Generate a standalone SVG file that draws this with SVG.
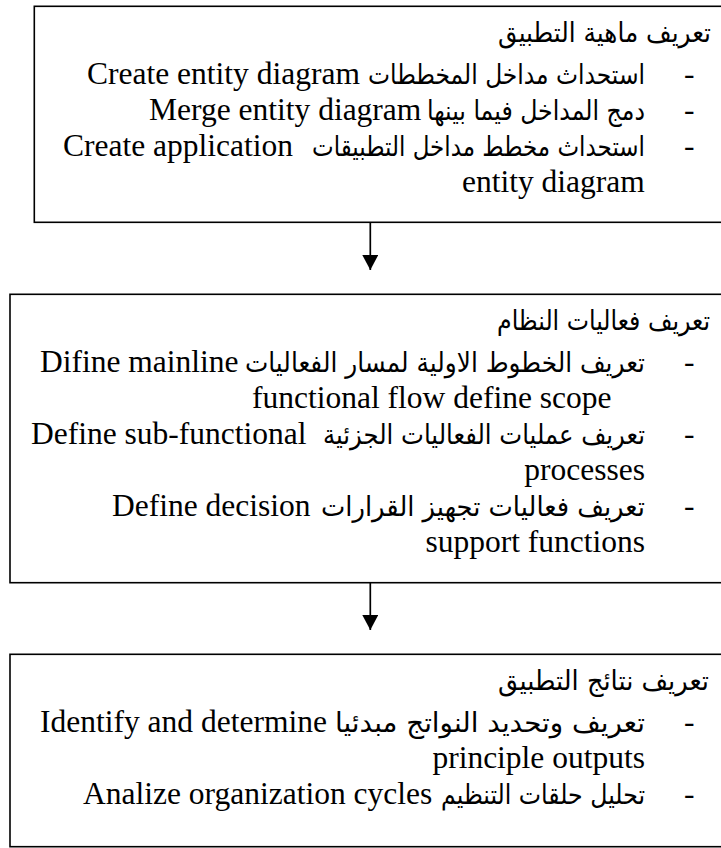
<svg xmlns="http://www.w3.org/2000/svg" width="721" height="848" viewBox="0 0 721 848">
<defs>
<style>
.box{fill:#fff;stroke:#000;stroke-width:1.6}
.en{font-family:"Liberation Serif","Times New Roman",serif;font-size:31.5px;fill:#000}
.ar{font-family:"DejaVu Sans","Noto Sans",sans-serif;font-size:27px;fill:#000}
.dash{font-family:"Liberation Serif",serif;font-size:31.5px;fill:#000}
.conn{stroke:#000;stroke-width:1.7;fill:none}
</style>
<marker id="arr" viewBox="0 0 15 16" refX="15" refY="8" markerWidth="15" markerHeight="16" markerUnits="userSpaceOnUse" orient="auto">
<path d="M0,0 L15,8 L0,16 Z" fill="#000"/>
</marker>
</defs>
<rect width="721" height="848" fill="#fff"/>

<g id="n1">
<rect class="box" x="34.3" y="6.3" width="700" height="216"/>
<text class="ar" x="498" y="42" textLength="213" lengthAdjust="spacingAndGlyphs">تعريف ماهية التطبيق</text>
<text class="dash" x="684" y="84">-</text>
<text class="ar" x="368" y="84" textLength="277" lengthAdjust="spacingAndGlyphs">استحداث مداخل المخططات</text>
<text class="en" x="87" y="84">Create entity diagram</text>
<text class="dash" x="684" y="120">-</text>
<text class="ar" x="427" y="120" textLength="218" lengthAdjust="spacingAndGlyphs">دمج المداخل فيما بينها</text>
<text class="en" x="149" y="120">Merge entity diagram</text>
<text class="dash" x="684" y="156">-</text>
<text class="ar" x="312" y="156" textLength="333" lengthAdjust="spacingAndGlyphs">استحداث مخطط مداخل التطبيقات</text>
<text class="en" x="63" y="156">Create application</text>
<text class="en" x="462" y="192">entity diagram</text>
</g>

<g id="n2">
<rect class="box" x="10" y="294.3" width="725" height="288.4"/>
<text class="ar" x="497" y="330" textLength="213" lengthAdjust="spacingAndGlyphs">تعريف فعاليات النظام</text>
<text class="dash" x="684" y="372">-</text>
<text class="ar" x="245" y="372" textLength="400" lengthAdjust="spacingAndGlyphs">تعريف الخطوط الاولية لمسار  الفعاليات</text>
<text class="en" x="40" y="372">Difine mainline</text>
<text class="en" x="252" y="408">functional flow define scope</text>
<text class="dash" x="684" y="444">-</text>
<text class="ar" x="323" y="444" textLength="322" lengthAdjust="spacingAndGlyphs">تعريف عمليات الفعاليات الجزئية</text>
<text class="en" x="31" y="444">Define sub-functional</text>
<text class="en" x="645" y="480" text-anchor="end">processes</text>
<text class="dash" x="684" y="516">-</text>
<text class="ar" x="321" y="516" textLength="324" lengthAdjust="spacingAndGlyphs">تعريف فعاليات تجهيز القرارات</text>
<text class="en" x="112" y="516">Define decision</text>
<text class="en" x="645" y="552" text-anchor="end">support functions</text>
</g>

<g id="n3">
<rect class="box" x="10" y="654.3" width="725" height="192.4"/>
<text class="ar" x="498" y="690" textLength="211" lengthAdjust="spacingAndGlyphs">تعريف نتائج التطبيق</text>
<text class="dash" x="684" y="732">-</text>
<text class="ar" x="335" y="732" textLength="310" lengthAdjust="spacingAndGlyphs">تعريف وتحديد النواتج مبدئيا</text>
<text class="en" x="40" y="732">Identify and determine</text>
<text class="en" x="645" y="768" text-anchor="end">principle outputs</text>
<text class="dash" x="684" y="804">-</text>
<text class="ar" x="441" y="804" textLength="204" lengthAdjust="spacingAndGlyphs">تحليل حلقات التنظيم</text>
<text class="en" x="83" y="804">Analize organization cycles</text>
</g>

<g id="connectors">
<line class="conn" x1="370.3" y1="222.3" x2="370.3" y2="270" marker-end="url(#arr)"/>
<line class="conn" x1="370.3" y1="582.7" x2="370.3" y2="630" marker-end="url(#arr)"/>
</g>
</svg>
